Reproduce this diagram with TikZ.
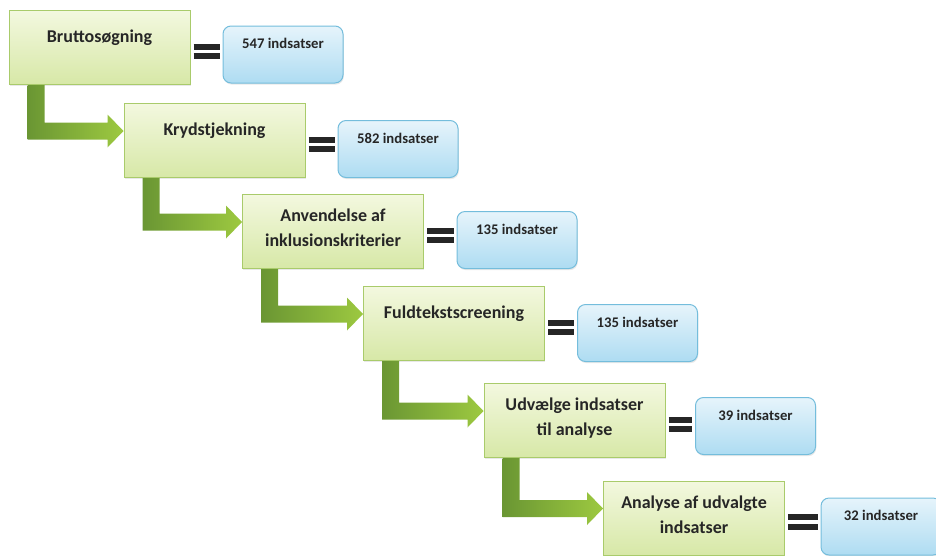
\documentclass[tikz,border=0pt]{standalone}
\usepackage{fontspec}
\setsansfont{Carlito}
\usepackage{tikz}
\usetikzlibrary{shadows}
\definecolor{flgreen}{HTML}{A9CB6B}
\definecolor{flgreendk}{HTML}{6A9633}
\definecolor{flgreenlt}{HTML}{9DC940}
\definecolor{flbggreentop}{HTML}{F3F8DF}
\definecolor{flbggreen}{HTML}{D7E8A7}
\definecolor{flblue}{HTML}{74BDDC}
\definecolor{flbgbluetop}{HTML}{E6F4FB}
\definecolor{flbgblue}{HTML}{AEDCF2}
\definecolor{fltext}{HTML}{262626}

\begin{document}
\begin{tikzpicture}[x=1pt, y=1pt,
  font=\sffamily\bfseries, text=fltext,
  every shadow/.style={shadow xshift=0.8pt, shadow yshift=-1.6pt, opacity=0.18},
  stepbox/.style={draw=flgreen, line width=1pt, top color=flbggreentop, bottom color=flbggreen, minimum width=181pt, minimum height=74pt, align=center, inner sep=3pt, font=\fontsize{18}{25}\selectfont\sffamily\bfseries, text height=13pt, text depth=24pt, drop shadow},
  twoline/.style={text height=38pt, text depth=8pt},
  nbox/.style={draw=flblue, line width=1pt, rounded corners=8pt, top color=flbgbluetop, bottom color=flbgblue, minimum width=120pt, minimum height=57pt, inner sep=3pt, font=\fontsize{14.7}{17}\selectfont\sffamily\bfseries, text height=10.5pt, text depth=22pt, drop shadow},
  eqbar/.style={line width=6pt, draw=black!85, shorten <=3pt, shorten >=3pt},
  elbow/.style={draw=none, left color=flgreendk, right color=flgreenlt,
    to path={([xshift=19pt]\tikztostart.south west) -- ([xshift=36pt]\tikztostart.south west)
      |- ([xshift=-16pt,yshift=18pt]\tikztotarget.west) -- ([xshift=-16pt,yshift=26pt]\tikztotarget.west)
      -- ([yshift=9.5pt]\tikztotarget.west) -- ([xshift=-16pt,yshift=-7pt]\tikztotarget.west)
      -- ([xshift=-16pt,yshift=1pt]\tikztotarget.west) -| ([xshift=19pt]\tikztostart.south west) -- cycle}}
]
\useasboundingbox (0,0) rectangle (936,-555);
% ================= steps =================
\node[stepbox] (bru) at (99.5,-47.5) {Bruttosøgning};
\node[stepbox] (kry) at (214.5,-140.5) {Krydstjekning};
\node[stepbox, twoline] (anv) at (333,-231.5) {Anvendelse af\\inklusionskriterier};
\node[stepbox] (ful) at (454,-323.5) {Fuldtekstscreening};
\node[stepbox, twoline] (udv) at (574.5,-420.5) {Udvælge indsatser\\til analyse};
\node[stepbox, twoline] (ana) at (694,-518) {Analyse af udvalgte\\indsatser};
% ================= counts =================
\node[nbox] (bru-n) at (283,-54.5) {547 indsatser};
\node[nbox] (kry-n) at (398,-149) {582 indsatser};
\node[nbox] (anv-n) at (517,-240) {135 indsatser};
\node[nbox] (ful-n) at (637.5,-333) {135 indsatser};
\node[nbox] (udv-n) at (755.5,-426) {39 indsatser};
\node[nbox] (ana-n) at (881,-526.5) {32 indsatser};
% ================= step to step =================
\path[elbow] (bru) to (kry);
\path[elbow] (kry) to (anv);
\path[elbow] (anv) to (ful);
\path[elbow] (ful) to (udv);
\path[elbow] (udv) to (ana);
% ================= equals signs =================
\draw[eqbar] ([yshift=1pt]bru.east) -- ([yshift=1pt]bru.east -| bru-n.west);
\draw[eqbar] ([yshift=-8.5pt]bru.east) -- ([yshift=-8.5pt]bru.east -| bru-n.west);
\draw[eqbar] ([yshift=1pt]kry.east) -- ([yshift=1pt]kry.east -| kry-n.west);
\draw[eqbar] ([yshift=-8.5pt]kry.east) -- ([yshift=-8.5pt]kry.east -| kry-n.west);
\draw[eqbar] ([yshift=1pt]anv.east) -- ([yshift=1pt]anv.east -| anv-n.west);
\draw[eqbar] ([yshift=-8.5pt]anv.east) -- ([yshift=-8.5pt]anv.east -| anv-n.west);
\draw[eqbar] ([yshift=1pt]ful.east) -- ([yshift=1pt]ful.east -| ful-n.west);
\draw[eqbar] ([yshift=-8.5pt]ful.east) -- ([yshift=-8.5pt]ful.east -| ful-n.west);
\draw[eqbar] ([yshift=1pt]udv.east) -- ([yshift=1pt]udv.east -| udv-n.west);
\draw[eqbar] ([yshift=-8.5pt]udv.east) -- ([yshift=-8.5pt]udv.east -| udv-n.west);
\draw[eqbar] ([yshift=1pt]ana.east) -- ([yshift=1pt]ana.east -| ana-n.west);
\draw[eqbar] ([yshift=-8.5pt]ana.east) -- ([yshift=-8.5pt]ana.east -| ana-n.west);
\end{tikzpicture}
\end{document}
